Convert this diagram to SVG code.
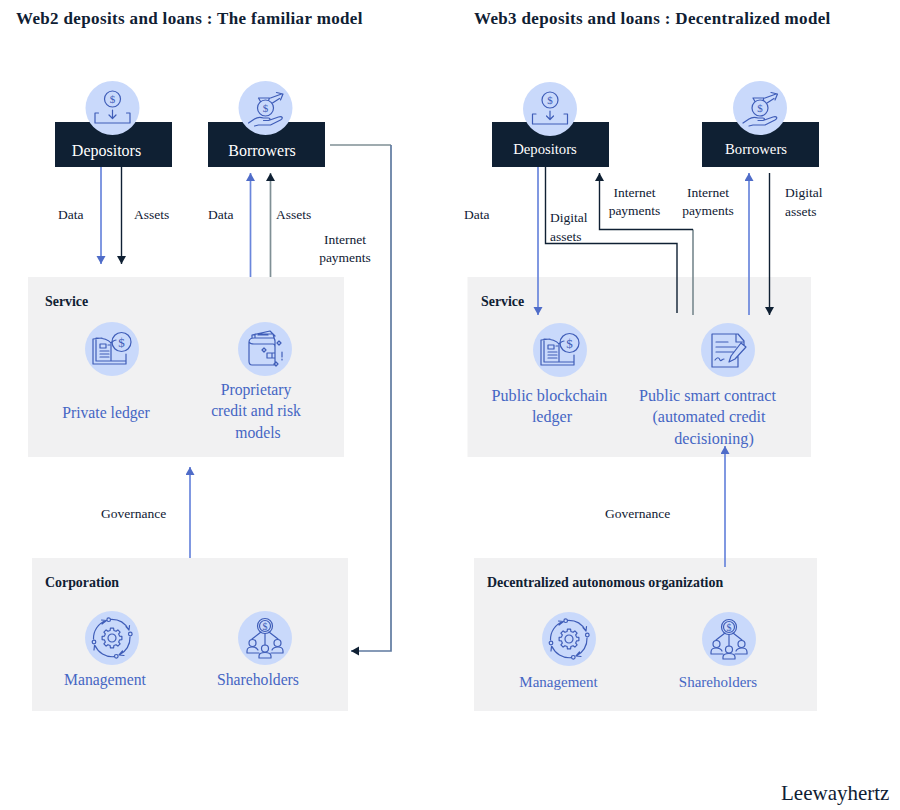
<svg xmlns="http://www.w3.org/2000/svg" xmlns:xlink="http://www.w3.org/1999/xlink" width="900" height="810" viewBox="0 0 900 810">
<style>
text{font-family:"Liberation Serif","Times New Roman",serif}
.title{font-size:17px;font-weight:700;fill:#0f2033;letter-spacing:.35px}
.head{font-size:13.9px;font-weight:700;fill:#0f2033}
.name{font-size:16px;fill:#fff;text-anchor:middle}
.name2{font-size:14.7px;fill:#fff;text-anchor:middle}
.lab{font-size:13.5px;fill:#0f2033}
.mid{text-anchor:middle}
.item{font-size:15.7px;fill:#4566c4;text-anchor:middle}
.item2{font-size:16.1px;fill:#4566c4;text-anchor:middle}
.item3{font-size:15px;fill:#4566c4;text-anchor:middle}
.bg{fill:#f1f1f2}
.dark{fill:#0f2033}
.disc{fill:#c9d9fb}
.ic{fill:none;stroke:#3f5db8;stroke-width:1.2;stroke-linecap:round;stroke-linejoin:round}
.sym{font-size:11px;fill:#3f5db8;text-anchor:middle}
.blue{fill:none;stroke:#6a86dc;stroke-width:1.7}
.black{fill:none;stroke:#0f2033;stroke-width:1.4}
.gray{fill:none;stroke:#7f8f95;stroke-width:1.7}
.slate{fill:none;stroke:#5f7aa0;stroke-width:1.7}
.wm{font-size:21px;fill:#0f2033}
</style>
<defs>
<marker id="ab" markerUnits="userSpaceOnUse" markerWidth="10" markerHeight="10" refX="8" refY="4.5" orient="auto"><path d="M0,0L8,4.5L0,9Z" fill="#4f6cc8"/></marker>
<marker id="ad" markerUnits="userSpaceOnUse" markerWidth="10" markerHeight="10" refX="8" refY="4.5" orient="auto"><path d="M0,0L8,4.5L0,9Z" fill="#0f2033"/></marker>
<g id="i-dep"><circle class="disc" r="27"/><g class="ic"><circle cx="0" cy="-9" r="8"/><path d="M0,2V10M-3.5,7L0,10.5L3.5,7M-14,5H-17.5V15H17.5V5H14"/></g><text class="sym" x="0" y="-5">$</text></g>
<g id="i-bor"><circle class="disc" r="27"/><g class="ic"><circle cx="0" cy="0" r="8"/><path d="M-5,-6.5L-7,-10H4L3,-7.500M5,-10L16,-14M11,-15.500L17.500,-14L15,-8M7,-5L14,-9.500M-17,15L-11,11C-8,9-5,9-2,10H3C5,10 5,12 3,12.500H-2M3,12.500L13,9C17,8 18,10 15,12L5,17H-7L-11,18"/></g><text class="sym" x="0" y="4">$</text></g>
<g id="i-led"><circle class="disc" r="27"/><g class="ic"><path d="M-10,-11L-19,-10V15H14V5M-16,-11V12H-1V-6C-4,-10-10,-11-16,-11ZM-1,-6C1,-8 3,-9 4,-9M-1,12H14V5"/><path d="M-12,-5H-6V-1H-12ZM-4,-4H-2M-12,2H-3M-12,5H-3M-12,8H-3"/><circle cx="9.500" cy="-7" r="9.500"/></g><text class="sym" x="9.500" y="-2.500" style="font-size:13px">$</text></g>
<g id="i-wal"><circle class="disc" r="27"/><g class="ic"><path d="M-16,-7C-16,-10-13,-11-11,-11H8C9,-11 10,-10 10,-8V16H-13C-15,16-16,14-16,12ZM-16,-7C-15,-5-13,-5-11,-5H8C9,-5 10,-4 10,-2V3M2,4H7V9H2ZM7,4H10M7,9H10M-13,-11L-13,-14L5,-18L10,-13M-10,-11V-15L8,-15L10,-8M-7,-14H3M14,-8L16,-6L14,-4L12,-6ZM-1,-1L1,1L-1,3L-3,1ZM11,13L13,15L11,17L9,15ZM17,3V8M17,10V11"/></g></g>
<g id="i-con"><circle class="disc" r="27"/><g class="ic"><path d="M-16,-16H8L10,-16L16,-9V-5M8,-16V-8H16M10,17H-16V-16M10,17V6M-12,-3H8M-12,2H6M-12,-8H0M-13,10C-11,7-9,7-8,10C-7,12-6,9-4,9M13,-7L18,-3L7,9L1,12L3,6Z"/></g></g>
<g id="i-mgt"><circle class="disc" r="27"/><g class="ic"><polygon points="7.57,-1.89 9.88,-1.56 9.88,1.56 7.57,1.89 6.69,4.02 8.09,5.88 5.88,8.09 4.02,6.69 1.89,7.57 1.56,9.88 -1.56,9.88 -1.89,7.57 -4.02,6.69 -5.88,8.09 -8.09,5.88 -6.69,4.02 -7.57,1.89 -9.88,1.56 -9.88,-1.56 -7.57,-1.89 -6.69,-4.02 -8.09,-5.88 -5.88,-8.09 -4.02,-6.69 -1.89,-7.57 -1.56,-9.88 1.56,-9.88 1.89,-7.57 4.02,-6.69 5.88,-8.09 8.09,-5.88 6.69,-4.02"/><circle r="4"/><circle cx="-3.300" cy="-18.300" r="1.800"/><circle cx="18.300" cy="-4" r="1.800"/><circle cx="4.300" cy="18.300" r="1.800"/><circle cx="-18" cy="4" r="1.800"/><path d="M-0.500,-18.600A19,19 0 0 1 16.500,-8.500M14,-11.500L17,-8L17.500,-12.500M18,-1A19,19 0 0 1 7.200,17M10.500,13L7,17L12,17.500M1.500,18.700A19,19 0 0 1 -17,7.500M-14.500,11.500L-17.500,7.500L-18,12M-18.500,1A19,19 0 0 1 -6,-17.500M-10,-14L-5.500,-17.500L-10.500,-18"/></g></g>
<g id="i-sha"><circle class="disc" r="27"/><g class="ic"><circle cx="0" cy="-12" r="7.500"/><circle cx="0" cy="-12" r="5.500"/><path d="M0,-4.500V7M-4,-6L-13,1M4,-6L13,1"/><circle cx="-12.500" cy="5" r="3.500"/><circle cx="12.500" cy="5" r="3.500"/><circle cx="0" cy="10.500" r="3.500"/><path d="M-18,15V13C-18,10-15,9-13,9C-11,9-8,10-7,12M-18,15H-6M18,15V13C18,10,15,9,13,9C11,9,8,10,7,12M18,15H6M-6,20V18C-6,15.500-3,14.500,0,14.500C3,14.500,6,15.500,6,18V20H-6Z"/></g><text class="sym" x="0" y="-8.500" style="font-size:10px">$</text></g>
</defs>

<text class="title" x="16" y="24">Web2 deposits and loans : The familiar model</text>
<text class="title" x="474" y="24">Web3 deposits and loans : Decentralized model</text>
<text class="wm" x="781" y="800">Leewayhertz</text>

<g id="node-l-service"><rect class="bg" x="28" y="277" width="316" height="180"/><text class="head" x="45" y="306">Service</text></g>
<g id="node-l-private-ledger"><use href="#i-led" x="112" y="349"/><text class="item" x="106" y="418">Private ledger</text></g>
<g id="node-l-proprietary"><use href="#i-wal" x="265" y="349"/><text class="item" x="256" y="395">Proprietary</text><text class="item" x="256" y="416">credit and risk</text><text class="item" x="258" y="438">models</text></g>
<g id="node-l-corporation"><rect class="bg" x="32" y="558" width="316" height="153"/><text class="head" x="45" y="587">Corporation</text></g>
<g id="node-l-management"><use href="#i-mgt" x="112" y="638"/><text class="item" x="105" y="685">Management</text></g>
<g id="node-l-shareholders"><use href="#i-sha" x="265" y="638"/><text class="item" x="258" y="685">Shareholders</text></g>
<g id="node-r-service"><rect class="bg" x="467.500" y="277" width="343.500" height="180"/><text class="head" x="481" y="306">Service</text></g>
<g id="node-r-ledger"><use href="#i-led" x="560" y="350"/><text class="item2" x="549.500" y="401">Public blockchain</text><text class="item2" x="552" y="422">ledger</text></g>
<g id="node-r-contract"><use href="#i-con" x="728" y="350"/><text class="item2" x="707.500" y="401">Public smart contract</text><text class="item2" x="709" y="422">(automated credit</text><text class="item2" x="714" y="444">decisioning)</text></g>
<g id="node-r-dao"><rect class="bg" x="474" y="558" width="343" height="153"/><text class="head" x="487" y="587">Decentralized autonomous organization</text></g>
<g id="node-r-management"><use href="#i-mgt" x="569" y="639"/><text class="item3" x="558.500" y="687">Management</text></g>
<g id="node-r-shareholders"><use href="#i-sha" x="729" y="639"/><text class="item3" x="718" y="687">Shareholders</text></g>

<g id="connectors">
<path class="blue" marker-end="url(#ab)" d="M101,167V264"/>
<path class="black" marker-end="url(#ad)" d="M121.500,167V264"/>
<path class="blue" marker-end="url(#ab)" d="M250.500,277V173"/>
<path class="gray" marker-end="url(#ad)" d="M270.500,277V173"/>
<path class="gray" d="M330,145H391"/>
<path class="slate" marker-end="url(#ad)" d="M391,145V651H351"/>
<path class="blue" marker-end="url(#ab)" d="M190,558V467"/>
<path class="blue" marker-end="url(#ab)" d="M538,167V315"/>
<path class="black" d="M545.500,167V243.500H677V313"/>
<path class="gray" d="M693,315V229.500"/>
<path class="black" marker-end="url(#ad)" d="M693,229.500H599.500V173"/>
<path class="blue" marker-end="url(#ab)" d="M749,315V173"/>
<path class="black" marker-end="url(#ad)" d="M769.500,173V315"/>
<path class="blue" marker-end="url(#ab)" d="M725,567V446"/>
</g>

<g id="node-l-depositors"><rect class="dark" x="55" y="122" width="117" height="45"/><use href="#i-dep" x="112.500" y="108"/><text class="name" x="106.500" y="156">Depositors</text></g>
<g id="node-l-borrowers"><rect class="dark" x="208" y="122" width="117" height="45"/><use href="#i-bor" x="265.500" y="108"/><text class="name" x="262" y="156">Borrowers</text></g>
<g id="node-r-depositors"><rect class="dark" x="492" y="122" width="117" height="45"/><use href="#i-dep" x="550" y="109"/><text class="name2" x="545" y="154">Depositors</text></g>
<g id="node-r-borrowers"><rect class="dark" x="702" y="122" width="117" height="45"/><use href="#i-bor" x="760" y="108"/><text class="name2" x="756" y="154">Borrowers</text></g>

<g id="labels">
<text class="lab" x="58" y="219">Data</text>
<text class="lab" x="134" y="219">Assets</text>
<text class="lab" x="208" y="219">Data</text>
<text class="lab" x="276" y="219">Assets</text>
<text class="lab mid" x="345" y="244">Internet</text>
<text class="lab mid" x="345" y="262">payments</text>
<text class="lab" x="101" y="518">Governance</text>
<text class="lab" x="464" y="219">Data</text>
<text class="lab" x="550" y="222">Digital</text>
<text class="lab" x="550" y="241">assets</text>
<text class="lab mid" x="634.500" y="197">Internet</text>
<text class="lab mid" x="634.500" y="215">payments</text>
<text class="lab mid" x="708" y="197">Internet</text>
<text class="lab mid" x="708" y="215">payments</text>
<text class="lab" x="785" y="197">Digital</text>
<text class="lab" x="785" y="216">assets</text>
<text class="lab" x="605" y="518">Governance</text>
</g>
</svg>
